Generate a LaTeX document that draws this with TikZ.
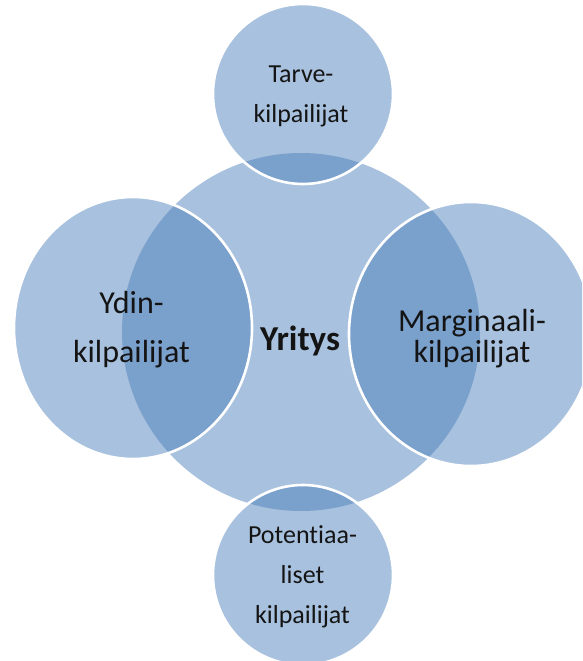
\documentclass[tikz,border=0pt]{standalone}
\usepackage{fontspec}
\setmainfont{Carlito}[Ligatures=NoCommon]
\definecolor{venn}{RGB}{70,123,185}
\definecolor{labeltext}{RGB}{20,20,20}
\tikzset{
  core/.style={fill=venn, fill opacity=0.47},
  sat/.style={fill=venn, fill opacity=0.47, draw=white, draw opacity=1, line width=2.6pt},
  lbl/.style={text=labeltext, align=center, inner sep=0pt, anchor=base},
  small/.style={lbl, font=\fontsize{26}{40}\selectfont},
}
\begin{document}
\begin{tikzpicture}[x=1pt, y=-1pt]
  \useasboundingbox (0,0) rectangle (582,661);
  \clip (0,0) rectangle (582,661);
  % central circle
  \fill[core] (301,332) circle [radius=179];
  % satellites
  \filldraw[sat] (303,94) circle [radius=90];
  \filldraw[sat] (133,328) ellipse [x radius=119, y radius=131];
  \filldraw[sat] (471,334) ellipse [x radius=122, y radius=132];
  \filldraw[sat] (303,575) circle [radius=90];
  % labels (anchor = baseline of the last line)
  \node[lbl, font=\fontsize{35}{40}\selectfont\bfseries] (yritys) at (300,350) {Yritys};
  \node[small] (tarve) at (301,122) {Tarve-\\kilpailijat};
  \node[lbl, font=\fontsize{32}{49}\selectfont] (ydin) at (131.5,362) {Ydin-\\kilpailijat};
  \node[lbl, font=\fontsize{32}{31}\selectfont] (marg) at (472,362) {Marginaali-\\kilpailijat};
  \node[small] (pot) at (302.5,623) {Potentiaa-\\liset\\kilpailijat};
\end{tikzpicture}
\end{document}
